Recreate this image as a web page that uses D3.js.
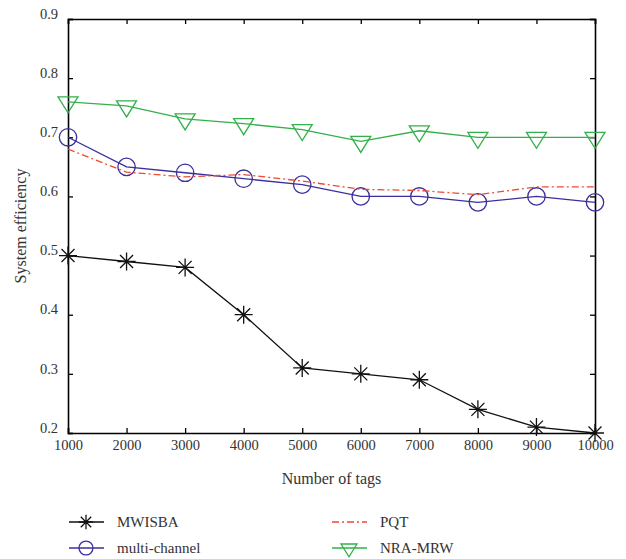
<!DOCTYPE html>
<html><head><meta charset="utf-8">
<script src="https://cdn.jsdelivr.net/npm/d3@7"></script>
<style>body{margin:0;background:#fff}svg{display:block}text{font-family:"Liberation Serif","DejaVu Serif",serif;fill:#333}</style>
</head><body>
<script>
const tags = [1000,2000,3000,4000,5000,6000,7000,8000,9000,10000];
const mwisba = [0.50,0.49,0.48,0.40,0.31,0.30,0.29,0.24,0.21,0.20];
const multiChannel = [0.70,0.65,0.64,0.63,0.62,0.60,0.60,0.59,0.60,0.59];
const pqt = [0.68,0.641,0.633,0.637,0.626,0.612,0.61,0.603,0.616,0.616];
const nraMrw = [0.76,0.753,0.731,0.723,0.713,0.693,0.711,0.70,0.70,0.70];
const yTicks = [0.2,0.3,0.4,0.5,0.6,0.7,0.8,0.9];
const seriesNames = ["MWISBA","multi-channel","PQT","NRA-MRW"];

const W=626,H=559;
const m={l:68,r:31,t:19,b:126};
const svg=d3.select("body").append("svg").attr("width",W).attr("height",H);
const x=d3.scaleLinear().domain([1000,10000]).range([m.l,W-m.r]);
const y=d3.scaleLinear().domain([0.2,0.9]).range([H-m.b,m.t]);

const series=[
 {name:seriesNames[0],vals:mwisba,color:"#111",marker:"star",dash:null},
 {name:seriesNames[1],vals:multiChannel,color:"#3b2f9c",marker:"circle",dash:null},
 {name:seriesNames[2],vals:pqt,color:"#ee4a2e",marker:null,dash:"7,3,2,3"},
 {name:seriesNames[3],vals:nraMrw,color:"#33b04a",marker:"tri",dash:null}
];

// axes
const g=svg.append("g");
const tickLen=5;
const axB=g.append("g").attr("transform",`translate(0,${y(0.2)})`).call(d3.axisBottom(x).tickValues(tags).tickSize(-tickLen).tickPadding(7).tickFormat(d3.format("d")));
const axT=g.append("g").attr("transform",`translate(0,${y(0.9)})`).call(d3.axisTop(x).tickValues(tags).tickSize(-tickLen).tickFormat(""));
const axL=g.append("g").attr("transform",`translate(${x(1000)},0)`).call(d3.axisLeft(y).tickValues(yTicks).tickSize(-tickLen).tickPadding(10).tickFormat(d3.format(".1f")));
const axR=g.append("g").attr("transform",`translate(${x(10000)},0)`).call(d3.axisRight(y).tickValues(yTicks).tickSize(-tickLen).tickFormat(""));
[axB,axT,axL,axR].forEach(a=>{a.select(".domain").attr("stroke","#000").attr("stroke-width",1.6);a.selectAll(".tick line").attr("stroke","#000").attr("stroke-width",1.3);a.selectAll("text").attr("font-size",14.5).attr("fill","#333").attr("font-family","Liberation Serif, serif");});
axL.selectAll("text").attr("dy","-0.05em");

// markers
function drawMarker(sel,type,color,cx,cy,s){
  s=s||1;
  if(type==="star"){
    const r=9*s,d=6.5*s;
    const p=`M${cx-r},${cy}L${cx+r},${cy}M${cx},${cy-r}L${cx},${cy+r}M${cx-d},${cy-d}L${cx+d},${cy+d}M${cx-d},${cy+d}L${cx+d},${cy-d}`;
    sel.append("path").attr("d",p).attr("stroke",color).attr("stroke-width",1.3).attr("fill","none");
  } else if(type==="circle"){
    sel.append("circle").attr("cx",cx).attr("cy",cy).attr("r",8.7*s).attr("stroke",color).attr("stroke-width",1.3).attr("fill","none");
  } else if(type==="tri"){
    const p=`M${cx-10*s},${cy-5*s}L${cx+10*s},${cy-5*s}L${cx},${cy+11*s}Z`;
    sel.append("path").attr("d",p).attr("stroke",color).attr("stroke-width",1.3).attr("fill","none");
  }
}
const line=d3.line().x((d,i)=>x(tags[i])).y(d=>y(d));
const plot=svg.append("g");
series.forEach(s=>{
  plot.append("path").datum(s.vals).attr("d",line).attr("fill","none").attr("stroke",s.color).attr("stroke-width",1.3).attr("stroke-dasharray",s.dash);
  if(s.marker) s.vals.forEach((v,i)=>drawMarker(plot,s.marker,s.color,x(tags[i]),y(v)));
});

// axis titles
svg.append("text").attr("x",(x(1000)+x(10000))/2).attr("y",484).attr("text-anchor","middle").attr("font-size",16).text("Number of tags");
svg.append("text").attr("transform",`translate(26,${(y(0.2)+y(0.9))/2}) rotate(-90)`).attr("text-anchor","middle").attr("font-size",16).text("System efficiency");

// legend
const legPos=[[69,522],[69,548],[332,522],[332,548]];
series.forEach((s,i)=>{
  const [lx,ly]=legPos[i];
  const lg=svg.append("g");
  lg.append("line").attr("x1",lx).attr("x2",lx+35).attr("y1",ly).attr("y2",ly).attr("stroke",s.color).attr("stroke-width",1.3).attr("stroke-dasharray",s.dash);
  if(s.marker) drawMarker(lg,s.marker,s.color,lx+17,ly,0.8);
  lg.append("text").attr("x",lx+48).attr("y",ly).attr("dy","0.33em").attr("font-size",15).text(s.name);
});
</script>
</body></html>
